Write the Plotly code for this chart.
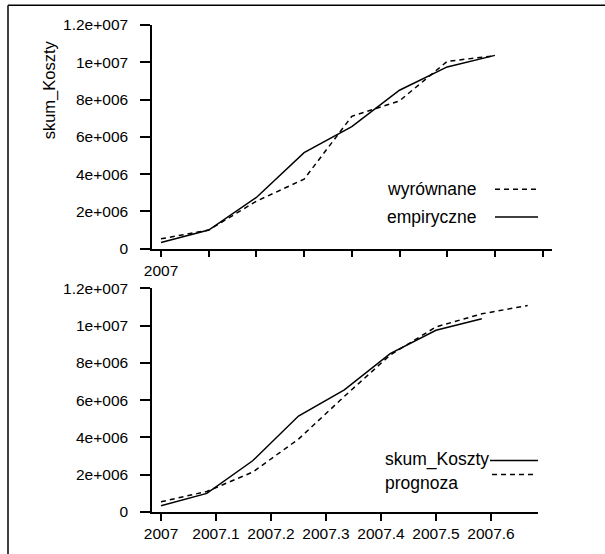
import plotly.graph_objects as go

# ---- data ----
months_top = [0, 1, 2, 3, 4, 5, 6, 7]
months_fc = [0, 1, 2, 3, 4, 5, 6, 7, 8]
empiryczne = [3.3e5, 1.0e6, 2.75e6, 5.15e6, 6.55e6, 8.5e6, 9.75e6, 1.037e7]
wyrownane = [5.3e5, 1.0e6, 2.55e6, 3.73e6, 7.1e6, 7.93e6, 1.005e7, 1.035e7]
prognoza = [5.5e5, 1.1e6, 2.14e6, 3.91e6, 6.2e6, 8.42e6, 9.93e6, 1.063e7, 1.108e7]

y_tickvals = [0, 2e6, 4e6, 6e6, 8e6, 1e7, 1.2e7]
y_ticktext = ["0", "2e+006", "4e+006", "6e+006", "8e+006", "1e+007", "1.2e+007"]
top_tick_months = [0, 1, 2, 3, 4, 5, 6, 7, 8]
top_ticktext = ["2007", "", "", "", "", "", "", "", ""]
bot_tickvals = [2007.0, 2007.1, 2007.2, 2007.3, 2007.4, 2007.5, 2007.6]
bot_ticktext = ["2007", "2007.1", "2007.2", "2007.3", "2007.4", "2007.5", "2007.6"]

x_top = [2007 + m / 12 for m in months_top]
x_fc = [2007 + m / 12 for m in months_fc]
top_tickvals = [2007 + m / 12 for m in top_tick_months]

FONT = "Liberation Sans, Arial, sans-serif"
FS_TICK = 15.5
FS_LEG = 17.5
FS_TITLE = 16.5
LW = 1.5
DASH = "5px,4px"

fig = go.Figure()
fig.add_trace(go.Scatter(x=x_top, y=empiryczne, mode="lines",
                         line=dict(color="black", width=LW), xaxis="x", yaxis="y"))
fig.add_trace(go.Scatter(x=x_top, y=wyrownane, mode="lines",
                         line=dict(color="black", width=LW, dash=DASH), xaxis="x", yaxis="y"))
fig.add_trace(go.Scatter(x=x_top, y=empiryczne, mode="lines",
                         line=dict(color="black", width=LW), xaxis="x2", yaxis="y2"))
fig.add_trace(go.Scatter(x=x_fc, y=prognoza, mode="lines",
                         line=dict(color="black", width=LW, dash=DASH), xaxis="x2", yaxis="y2"))

# geometry (pixels)
W, H = 605, 554
L, R, T, B = 152, 53, 25, 37
pw, ph = W - L - R, H - T - B


def px2x(px):
    return (px - L) / pw


def py2y(py):
    return (H - B - py) / ph


ax_common = dict(showline=True, linecolor="black", linewidth=1.5, ticks="outside",
                 tickcolor="black", tickwidth=1.5, showgrid=False, zeroline=False,
                 tickfont=dict(family=FONT, size=FS_TICK, color="black"))

top_px_per_year = 47.7 * 12
bot_px_per_year = 550.0

fig.update_layout(
    width=W, height=H, margin=dict(l=L, r=R, t=T, b=B),
    paper_bgcolor="white", plot_bgcolor="white", showlegend=False,
    xaxis=dict(**ax_common, domain=[0, 1], anchor="y", ticklen=7,
               range=[2007 - 9 / top_px_per_year, 2007 + (pw - 9) / top_px_per_year],
               tickmode="array", tickvals=top_tickvals, ticktext=top_ticktext),
    yaxis=dict(**ax_common, domain=[py2y(251), 1], anchor="x", ticklen=10, range=[0, 1.2e7],
               tickmode="array", tickvals=y_tickvals, ticktext=y_ticktext,
               ticklabelstandoff=9),
    xaxis2=dict(**ax_common, domain=[0, px2x(538)], anchor="y2", ticklen=7,
                range=[2007 - 9 / bot_px_per_year, 2007 + (538 - L - 9) / bot_px_per_year],
                tickmode="array", tickvals=bot_tickvals, ticktext=bot_ticktext),
    yaxis2=dict(**ax_common, domain=[0, py2y(291)], anchor="x2", ticklen=10, range=[0, 1.2e7],
                tickmode="array", tickvals=y_tickvals, ticktext=y_ticktext,
                ticklabelstandoff=9),
)

annots = []
shapes = []


def legend_text(text, px, py):
    annots.append(dict(text=text, x=px2x(px), y=py2y(py), xref="paper", yref="paper",
                       xanchor="left", yanchor="middle", showarrow=False,
                       font=dict(family=FONT, size=FS_LEG, color="black")))


def legend_line(x0, x1, py, dash):
    shapes.append(dict(type="line", xref="paper", yref="paper",
                       x0=px2x(x0), x1=px2x(x1), y0=py2y(py), y1=py2y(py),
                       line=dict(color="black", width=LW, dash=dash)))


legend_text("wyrównane", 385, 191)
legend_line(495, 538, 191, DASH)
legend_text("empiryczne", 385, 219)
legend_line(495, 538, 219, "solid")

legend_text("skum_Koszty", 383, 464)
legend_line(490, 538, 465, "solid")
legend_text("prognoza", 383, 488)
legend_line(492, 536, 479, DASH)

annots.append(dict(text="skum_Koszty", x=px2x(49), y=py2y(91), xref="paper", yref="paper",
                   xanchor="center", yanchor="middle", showarrow=False, textangle=-90,
                   font=dict(family=FONT, size=FS_TITLE, color="black")))

# frame lines (left and top)
shapes.append(dict(type="line", xref="paper", yref="paper", x0=px2x(8), x1=px2x(8),
                   y0=py2y(5), y1=py2y(560), line=dict(color="black", width=1.5)))
shapes.append(dict(type="line", xref="paper", yref="paper", x0=px2x(8), x1=px2x(610),
                   y0=py2y(5), y1=py2y(5), line=dict(color="black", width=1.5)))

fig.update_layout(annotations=annots, shapes=shapes)
fig.write_html("out.html", config={"displayModeBar": False},
               post_script="document.body.style.margin='0';")
